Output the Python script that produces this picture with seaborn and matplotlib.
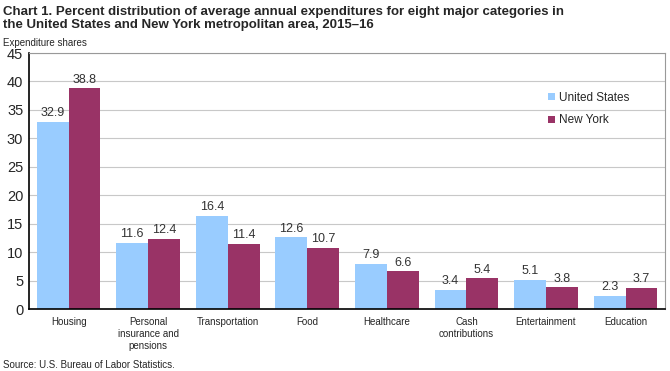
import numpy as np
import pandas as pd
import seaborn as sns
import matplotlib.pyplot as plt

categories = ["Housing", "Personal\ninsurance and\npensions", "Transportation", "Food",
              "Healthcare", "Cash\ncontributions", "Entertainment", "Education"]
us_values = [32.9, 11.6, 16.4, 12.6, 7.9, 3.4, 5.1, 2.3]
ny_values = [38.8, 12.4, 11.4, 10.7, 6.6, 5.4, 3.8, 3.7]
series = ["United States", "New York"]
colors = ["#99CCFF", "#993366"]

df = pd.DataFrame({
    "category": categories * 2,
    "value": us_values + ny_values,
    "area": [series[0]] * len(categories) + [series[1]] * len(categories),
})

sns.set_style("white")
plt.rcParams["font.family"] = ["Liberation Sans", "DejaVu Sans"]

fig = plt.figure(figsize=(6.7, 3.71), dpi=100)
ax = fig.add_axes([0.043, 0.167, 0.950, 0.690])

sns.barplot(data=df, x="category", y="value", hue="area", palette=colors,
            width=0.8, saturation=1, edgecolor="none", linewidth=0, ax=ax, zorder=2)

for container in ax.containers:
    ax.bar_label(container, fmt="%.1f", padding=2, fontsize=9, color="#333333")

ax.set_ylim(0, 45)
ax.set_yticks(range(0, 46, 5))
ax.yaxis.grid(True, color="#c8c8c8", linewidth=0.8, zorder=0)
ax.set_axisbelow(True)
ax.tick_params(axis="y", labelsize=10.5, length=0, pad=4)
ax.tick_params(axis="x", labelsize=7, length=0, pad=6)
ax.set_xlabel("")
ax.set_ylabel("")
for s in ["left", "bottom"]:
    ax.spines[s].set_color("black")
    ax.spines[s].set_linewidth(1.2)
for s in ["top", "right"]:
    ax.spines[s].set_color("#999999")
    ax.spines[s].set_linewidth(0.8)

leg = ax.legend(loc="upper right", bbox_to_anchor=(0.96, 0.89), frameon=False,
                fontsize=8.5, handlelength=0.6, handleheight=0.6, handletextpad=0.3,
                labelspacing=0.9)

fig.text(0.005, 0.985, "Chart 1. Percent distribution of average annual expenditures for eight major categories in\n"
         "the United States and New York metropolitan area, 2015\u201316",
         fontsize=9.5, fontweight="bold", va="top", ha="left", linespacing=1.15)
fig.text(0.005, 0.885, "Expenditure shares", fontsize=7, va="center", ha="left")
fig.text(0.005, 0.003, "Source: U.S. Bureau of Labor Statistics.", fontsize=7, va="bottom", ha="left")

fig.savefig("out.png", dpi=100)
